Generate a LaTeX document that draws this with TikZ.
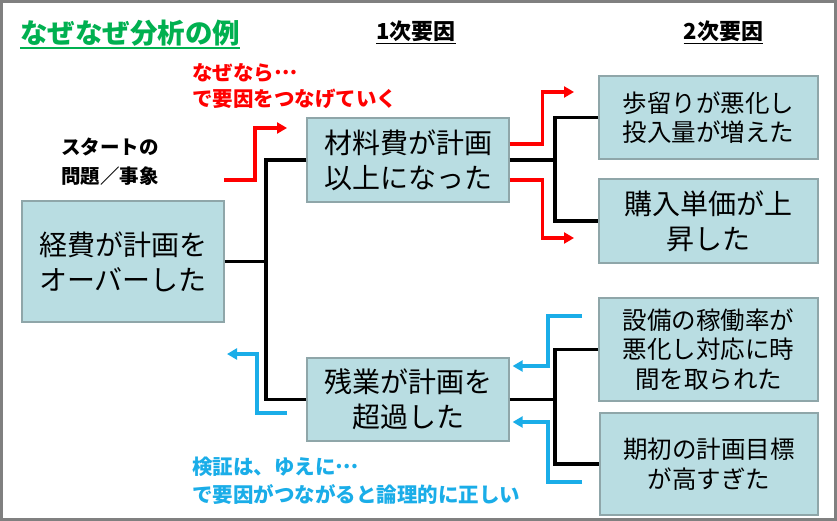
\documentclass[tikz,border=0pt]{standalone}
\usepackage{fontspec}
\setmainfont{Noto Sans CJK JP}
\newcommand{\jdots}{\raisebox{0.3em}{…}}
\usetikzlibrary{arrows.meta}
\definecolor{boxfill}{HTML}{B9DDE2}
\definecolor{boxline}{HTML}{8FA6A9}
\definecolor{redA}{HTML}{FF0000}
\definecolor{blueA}{HTML}{1AADE8}
\definecolor{greenA}{HTML}{00B050}
\definecolor{frameA}{HTML}{808080}
\begin{document}
\begin{tikzpicture}[x=1pt,y=-1pt,
  box/.style={draw=boxline, line width=1.3pt, fill=boxfill, align=center, inner sep=0pt},
  bigtext/.style={font=\fontsize{28}{35}\selectfont},
  smalltext/.style={font=\fontsize{24.5}{29.5}\selectfont},
  tree/.style={line width=3.6pt, line join=miter},
  redarrow/.style={draw=redA, line width=3.2pt, -{Triangle[length=10pt,width=11pt]}},
  bluearrow/.style={draw=blueA, line width=3.2pt, -{Triangle[length=10pt,width=11pt]}},
  label/.style={inner sep=0pt, anchor=west, align=left}
]
\useasboundingbox (0,0) rectangle (837,521);
\fill[white] (0,0) rectangle (837,521);
\draw[frameA, line width=3pt] (1.5,1.5) rectangle (835.5,519.5);

% titles
\node[label, text=greenA, font=\bfseries\fontsize{27.5}{30}\selectfont] (title) at (20,33) {なぜなぜ分析の例};
\draw[greenA, line width=2pt] ([yshift=-2pt]title.south west) -- ([yshift=-2pt]title.south east);
\node[inner sep=0pt, font=\bfseries\fontsize{22}{26}\selectfont] (h1) at (416,31) {1次要因};
\draw[line width=1.6pt] ([yshift=-2pt]h1.south west) -- ([yshift=-2pt]h1.south east);
\node[inner sep=0pt, font=\bfseries\fontsize{22}{26}\selectfont] (h2) at (723.5,31) {2次要因};
\draw[line width=1.6pt] ([yshift=-2pt]h2.south west) -- ([yshift=-2pt]h2.south east);

% labels
\node[label, text=redA, font=\bfseries\fontsize{20.5}{26}\selectfont] (why) at (192,86) {なぜなら\jdots\\で要因をつなげていく};
\node[label, font=\bfseries\fontsize{19.5}{29}\selectfont] (start) at (61,161.5) {スタートの\\問題／事象};
\node[label, text=blueA, font=\bfseries\fontsize{20.5}{28}\selectfont] (check) at (192,481) {検証は、ゆえに\jdots\\で要因がつながると論理的に正しい};

% boxes
\node[box, bigtext, minimum width=202pt, minimum height=121pt] (A) at (123,261.5) {経費が計画を\\オーバーした};
\node[box, bigtext, minimum width=202pt, minimum height=84pt] (B) at (408,160) {材料費が計画\\以上になった};
\node[box, bigtext, minimum width=202pt, minimum height=83pt] (C) at (408,399.5) {残業が計画を\\超過した};
\node[box, smalltext, minimum width=219pt, minimum height=83pt] (D) at (708.5,117.5) {歩留りが悪化し\\投入量が増えた};
\node[box, bigtext, minimum width=219pt, minimum height=84pt] (E) at (708.5,221) {購入単価が上\\昇した};
\node[box, smalltext, minimum width=219pt, minimum height=103pt] (F) at (708.5,349.5) {設備の稼働率が\\悪化し対応に時\\間を取られた};
\node[box, smalltext, minimum width=218pt, minimum height=102pt] (G) at (709,464) {期初の計画目標\\が高すぎた};

% tree connectors
\coordinate (j1) at (266,261.5);
\coordinate (j2) at (555,160);
\coordinate (j3) at (555,399.5);
\draw[tree] (A.east) -- (j1);
\draw[tree] (B.west) -| (j1) |- (C.west);
\draw[tree] (B.east) -- (j2);
\draw[tree] (D.west) -| (j2) |- (E.west);
\draw[tree] (C.east) -- (j3);
\draw[tree] (F.west) -| (j3) |- (G.west);

% red arrows
\coordinate (r1s) at (224,180);
\coordinate (r1e) at (287,128);
\coordinate (r2e) at (574,92);
\coordinate (r3e) at (574,238);
\draw[redarrow] (r1s) -- ++(31,0) |- (r1e);
\draw[redarrow] ([yshift=16pt]B.east) -- ++(33,0) |- (r2e);
\draw[redarrow] ([yshift=-20pt]B.east) -- ++(33,0) |- (r3e);

% blue arrows
\coordinate (b1s) at (287,413);
\coordinate (b1e) at (227,354);
\coordinate (b2s) at (582,316);
\coordinate (b3s) at (582,482);
\draw[bluearrow] (b1s) -- ++(-30,0) |- (b1e);
\draw[bluearrow] (b2s) -- ++(-34,0) |- ([xshift=3pt,yshift=33.5pt]C.east);
\draw[bluearrow] (b3s) -- ++(-34,0) |- ([xshift=3pt,yshift=-22.5pt]C.east);
\end{tikzpicture}
\end{document}
